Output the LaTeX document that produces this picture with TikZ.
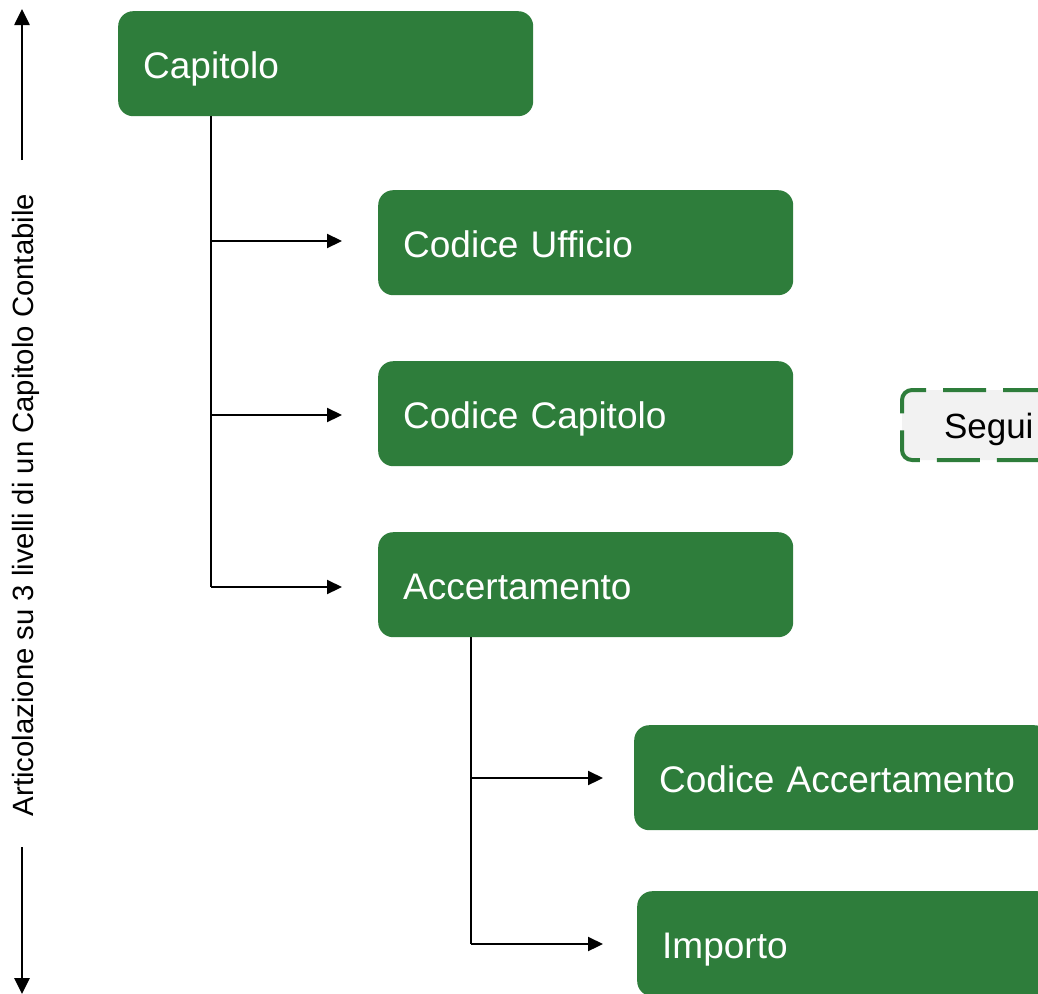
\documentclass[tikz,border=0pt]{standalone}
\usepackage{fontspec}
\setmainfont{Liberation Sans}
\usetikzlibrary{arrows.meta}
\definecolor{boxgreen}{RGB}{46,125,59}
\definecolor{boxgrey}{RGB}{242,242,242}
\begin{document}
\begin{tikzpicture}[x=1pt,y=-1pt,
  gbox/.style={rectangle, rounded corners=15pt, fill=boxgreen, text=white,
    anchor=north west, minimum height=105pt, text width=365pt, inner xsep=25pt,
    text height=36pt, text depth=7pt,
    align=left, font=\fontsize{37}{40}\selectfont},
  conn/.style={line width=2.2pt, -{Triangle[length=15pt,width=14pt]}},
  trunk/.style={line width=2.2pt},
  axis/.style={line width=2.6pt, -{Triangle[length=16pt,width=15pt]}}]
\useasboundingbox (0,0) rectangle (1038,993);
\clip (0,0) rectangle (1038,993);
\node[gbox] (cap) at (118,11) {Capitolo};
\node[gbox] (uff) at (378,190) {Codice Ufficio};
\node[gbox] (ccap) at (378,361) {Codice Capitolo};
\node[gbox] (acc) at (378,532) {Accertamento};
\node[gbox] (cacc) at (634,725) {Codice Accertamento};
\node[gbox] (imp) at (637,891) {Importo};
\node[rectangle, rounded corners=10pt, draw=boxgreen, fill=boxgrey, line width=4pt,
  dash pattern=on 43pt off 17pt, anchor=north west, minimum height=70pt,
  text width=250pt, inner xsep=42pt, align=left, text=black,
  text height=32pt, text depth=6pt,
  font=\fontsize{35}{38}\selectfont] (seg) at (900,388) {Segui};
% trunk from Capitolo
\coordinate (t0) at (211,116);
\coordinate (t1) at (211,241);
\coordinate (t2) at (211,415);
\coordinate (t3) at (211,587);
\draw[trunk] (t0) -- (t3);
\draw[conn] (t1) -- (342,241);
\draw[conn] (t2) -- (342,415);
\draw[conn] (t3) -- (342,587);
% trunk from Accertamento
\coordinate (s0) at (471,637);
\coordinate (s1) at (471,778);
\coordinate (s2) at (471,944);
\draw[trunk] (s0) -- (s2);
\draw[conn] (s1) -- (603,778);
\draw[conn] (s2) -- (603,944);
% axis
\node[rotate=90, font=\fontsize{29.3}{32}\selectfont, inner sep=0pt] (lab) at (26,505) {Articolazione su 3 livelli di un Capitolo Contabile};
\coordinate (a1) at (22,160);
\coordinate (a1t) at (22,9);
\coordinate (a2) at (22,847);
\coordinate (a2t) at (22,994);
\draw[axis] (a1) -- (a1t);
\draw[axis] (a2) -- (a2t);
\end{tikzpicture}
\end{document}
